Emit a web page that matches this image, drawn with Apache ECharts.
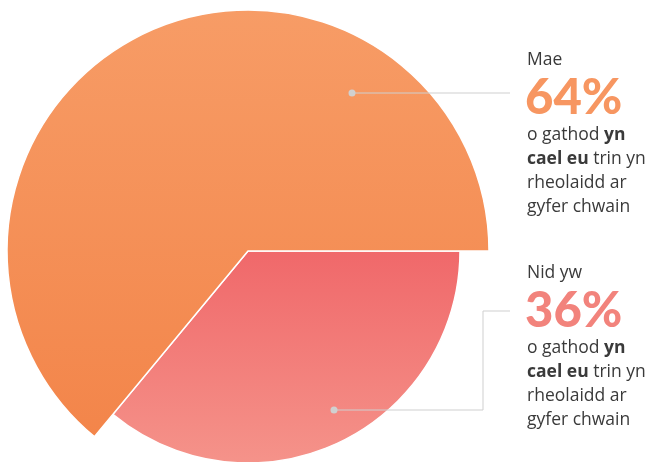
<!DOCTYPE html>
<html>
<head>
<meta charset="utf-8">
<script src="https://cdn.jsdelivr.net/npm/echarts@6/dist/echarts.min.js"></script>
<style>
  html, body { margin: 0; padding: 0; background: #fff; }
  #chart { width: 654px; height: 462px; }
</style>
</head>
<body>
<div id="chart"></div>
<script>
// data
const categories = ['Nid yw', 'Mae']
const values = [36, 64]
const bodyLines = ['o gathod {b|yn}', '{b|cael eu} trin yn', 'rheolaidd ar', 'gyfer chwain']

// colours: [top, bottom] of each slice
const colors = [
  ['#f0686a', '#f5938a'],
  ['#f79c66', '#f3854a'],
]
const numColors = ['#f2837c', '#f79661']

const center = [248, 251]

function grad(c) {
  return new echarts.graphic.LinearGradient(0, 0, 0, 1, [
    { offset: 0, color: c[0] },
    { offset: 1, color: c[1] },
  ])
}

// one series per slice so each one can have its own radius
const radii = [212, 241]
const series = radii.map((r, si) => ({
  type: 'pie',
  center: center,
  radius: [0, r],
  startAngle: 0,
  clockwise: true,
  silent: true,
  label: { show: false },
  labelLine: { show: false },
  data: values.map((v, i) => ({
    name: categories[i],
    value: v,
    itemStyle: i === si
      ? { color: grad(colors[i]), borderColor: '#fff', borderWidth: 1.5 }
      : { color: 'transparent' },
  })),
}))

// text blocks on the right
const graphics = []
const textX = 527
const bodyFont = '17.5px "Open Sans"'
categories.forEach((cat, i) => {
  const base = i === 1 ? 51 : 264
  const pct = Math.round(values[i] / values.reduce((a, b) => a + b, 0) * 100)
  graphics.push({
    type: 'text', left: textX, top: base, z: 100,
    style: { text: cat, font: bodyFont, fill: '#3a3a3a' },
  })
  graphics.push({
    type: 'text', left: textX - 2, top: base + 22.5, z: 100,
    style: { text: pct + '%', font: '900 49px Lato', fill: numColors[i] },
  })
  bodyLines.forEach((ln, k) => {
    graphics.push({
      type: 'text', left: textX, top: base + 75 + k * 24, z: 100,
      style: {
        text: ln, font: bodyFont, fill: '#3a3a3a',
        rich: { b: { font: 'bold 17.5px "Open Sans"', fill: '#3a3a3a' } },
      },
    })
  })
})

// leader lines
graphics.push({
  type: 'group', silent: true, z: 100,
  children: [
    { type: 'polyline', z: 100, shape: { points: [[352, 93], [510, 93]] }, style: { stroke: '#cfcfcf', lineWidth: 1 } },
    { type: 'circle', z: 101, shape: { cx: 352, cy: 93, r: 3.5 }, style: { fill: '#d0d0d0' } },
    { type: 'polyline', z: 100, shape: { points: [[334, 410], [483, 410], [483, 311], [510, 311]] }, style: { stroke: '#cfcfcf', lineWidth: 1, fill: null } },
    { type: 'circle', z: 101, shape: { cx: 334, cy: 410, r: 3.5 }, style: { fill: '#d0d0d0' } },
  ],
})

const chart = echarts.init(document.getElementById('chart'))
chart.setOption({
  animation: false,
  series: series,
  graphic: graphics,
})
</script>
</body>
</html>
